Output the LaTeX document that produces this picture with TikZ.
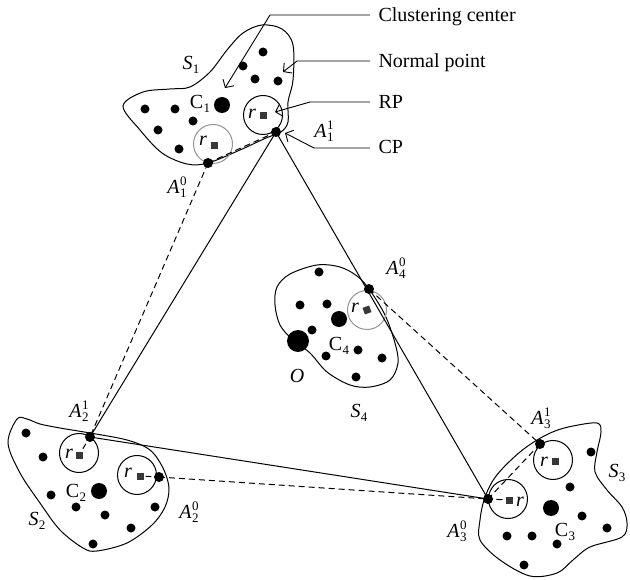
\documentclass[tikz,border=0pt]{standalone}
\usepackage{fontspec}
\setmainfont{Liberation Serif}
\usetikzlibrary{arrows.meta,calc}
\newcommand{\smallfs}{\fontsize{13}{13}\selectfont}
\newcommand{\lA}[2]{\textit{A}\kern0.5pt\rlap{\raisebox{-4pt}{\smallfs #1}}\raisebox{8pt}{\smallfs #2}}
\newcommand{\lS}[1]{\textit{S}\kern0.3pt\raisebox{-4pt}{\smallfs #1}}
\newcommand{\lC}[1]{C\kern0.3pt\raisebox{-4pt}{\smallfs #1}}
\begin{document}
\begin{tikzpicture}[x=1pt,y=-1pt,line width=1pt,
  dotn/.style={circle,fill=black,inner sep=0pt,minimum size=9pt},
  ptn/.style={circle,fill=black,inner sep=0pt,minimum size=10pt},
  bign/.style={circle,fill=black,inner sep=0pt,minimum size=16pt},
  sqr/.style={rectangle,fill=black!78,inner sep=0pt,minimum size=7pt},
  lbl/.style={inner sep=0pt,font=\fontsize{20}{24}\selectfont},
  ring/.style={circle,draw=black,line width=1pt,inner sep=0pt,minimum size=39pt},
  grayring/.style={ring,draw=black!42},
  blobline/.style={line width=1pt},
  dsh/.style={line width=1pt,dash pattern=on 6pt off 4pt},
  lead/.style={line width=0.9pt},
  arr/.style={lead,-{Straight Barb[length=6pt,width=13pt]}},
  rad/.style={line width=1pt}
]
\useasboundingbox (0,0) rectangle (630,580);

% key points
\coordinate (A11) at (276,132);
\coordinate (A10) at (208,163);
\coordinate (A21) at (90,437);
\coordinate (A20) at (159,477);
\coordinate (A30) at (488,499);
\coordinate (A31) at (540,444);
\coordinate (A40) at (369,289);

% blobs
\draw[blobline] plot[smooth cycle,tension=0.55] coordinates {
 (123,106) (143,92) (170,89) (190,87) (210,72) (227,50) (243,33) (262,25)
 (282,29) (293,45) (293,80) (288,102) (288,122) (281,132) (266,138) (240,150)
 (208,163) (187,164) (162,153) (140,130)};
\draw[blobline] plot[smooth cycle,tension=0.55] coordinates {
 (317,265) (340,267) (357,276) (369,289) (385,315) (395,343) (398,363)
 (390,380) (370,387) (350,385) (327,372) (310,353) (292,339) (280,325)
 (275,305) (277,287) (290,274)};
\draw[blobline] plot[smooth cycle,tension=0.55] coordinates {
 (17,419) (27,419) (40,424) (60,428) (90,433) (127,440) (150,450) (163,468)
 (169,488) (165,507) (152,525) (127,543) (97,551) (83,548) (60,530) (40,503)
 (20,473) (8,443)};
\draw[blobline] plot[smooth cycle,tension=0.55] coordinates {
 (480,540) (480,520) (484,500) (492,482) (503,468) (520,452) (537,440)
 (555,431) (573,426) (597,423) (601,432) (597,452) (595,472) (607,490)
 (622,507) (627,523) (622,537) (590,547) (573,560) (557,573) (530,576) (500,560)};

% rings
\node[ring] (R1) at (263,115) {};
\node[grayring] (G1) at (213,144) {};
\node[grayring] (G4) at (367,310) {};
\node[ring] (R21) at (79,453) {};
\node[ring] (R20) at (137,475) {};
\node[ring] (R31) at (553,460) {};
\node[ring] (R30) at (508,499) {};

% connectors
\draw (A11) -- (A21);
\draw (A11) -- (A30);
\draw (A21) -- (A30);
\draw[dsh] (A10) -- (A11);
\draw[dsh] (A10) -- (A21);
\draw[dsh] (A20) -- (A30);
\draw[dsh] (A40) -- (A31);
\draw[dsh] (A31) -- (A30);

% squares (RP)
\node[sqr] (q1) at (263,116) {};
\node[sqr] (qg1) at (214,146) {};
\node[sqr,rotate=20] (qg4) at (367,310) {};
\node[sqr] (q21) at (79,455) {};
\node[sqr] (q20) at (140,476) {};
\node[sqr] (q31) at (555,461) {};
\node[sqr] (q30) at (509,500) {};

% radius ticks
\draw[rad] ($(q21)!0.35!(A21)$) -- ($(q21)!0.62!(A21)$);
\draw[rad] ($(q20)!0.3!(A20)$) -- ($(q20)!0.6!(A20)$);
\draw[rad] ($(q30)!0.3!(A30)$) -- ($(q30)!0.6!(A30)$);

% r labels
\node[lbl] (r1) at (252,114) {\textit{r}};
\node[lbl] (rg1) at (203,141) {\textit{r}};
\node[lbl] (rg4) at (355,308) {\textit{r}};
\node[lbl] (r21) at (69,454) {\textit{r}};
\node[lbl] (r20) at (128,473) {\textit{r}};
\node[lbl] (r31) at (544,462) {\textit{r}};
\node[lbl] (r30) at (520,502) {\textit{r}};

% A points
\foreach \p in {A11,A10,A21,A20,A30,A31,A40} \node[ptn] (\p d) at (\p) {};

% normal points
\foreach \x/\y [count=\i] in {263/52,243/66,255/79,278/81,145/109,175/109,193/121,158/130,179/149,
  319/272,300/305,327/304,312/330,326/356,358/350,382/358,356/377,
  26/433,43/457,51/495,76/507,105/515,155/507,131/528,93/544,
  591/452,570/487,582/516,607/528,507/536,532/536,557/544,524/565}
  \node[dotn] (n\i) at (\x,\y) {};

% cluster centres
\node[bign] (C1) at (222,105) {};
\node[bign] (C4) at (339,319) {};
\node[bign] (C2) at (99,491) {};
\node[bign] (C3) at (551,508) {};
\node[circle,fill=black,inner sep=0pt,minimum size=22pt] (O) at (298,341) {};

% labels
\node[lbl] (lS1) at (191,65) {\lS{1}};
\node[lbl] (lC1) at (200,104) {\lC{1}};
\node[lbl] (lA10) at (177,187) {\lA{1}{0}};
\node[lbl] (lA11) at (324,131) {\lA{1}{1}};
\node[lbl] (lA40) at (396,268) {\lA{4}{0}};
\node[lbl] (lC4) at (339,346) {\lC{4}};
\node[lbl] (lO) at (297,376) {\textit{O}};
\node[lbl] (lS4) at (359,413) {\lS{4}};
\node[lbl] (lA21) at (79,411) {\lA{2}{1}};
\node[lbl] (lC2) at (76,493) {\lC{2}};
\node[lbl] (lS2) at (37,521) {\lS{2}};
\node[lbl] (lA20) at (189,512) {\lA{2}{0}};
\node[lbl] (lA31) at (541,418) {\lA{3}{1}};
\node[lbl] (lS3) at (617,473) {\lS{3}};
\node[lbl] (lA30) at (457,531) {\lA{3}{0}};
\node[lbl] (lC3) at (565,532) {\lC{3}};

% legend
\node[lbl,anchor=base west] (tCC) at (378,22) {Clustering center};
\node[lbl,anchor=base west] (tNP) at (378,68) {Normal point};
\node[lbl,anchor=base west] (tRP) at (378,109) {RP};
\node[lbl,anchor=base west] (tCP) at (378,154) {CP};

\coordinate (kCC) at (270,15);
\coordinate (eCC) at (370,15);
\coordinate (hCC) at (225,88);
\coordinate (kNP) at (297,61);
\coordinate (eNP) at (370,61);
\coordinate (hNP) at (283,72);
\coordinate (kRP) at (310,102);
\coordinate (eRP) at (370,102);
\coordinate (hRP) at (275,112);
\coordinate (kCP) at (314,148);
\coordinate (eCP) at (370,148);
\coordinate (hCP) at (285,133);
\draw[arr] (eCC) -- (kCC) -- (hCC);
\draw[arr] (eNP) -- (kNP) -- (hNP);
\draw[arr] (eRP) -- (kRP) -- (hRP);
\draw[arr] (eCP) -- (kCP) -- (hCP);
\end{tikzpicture}
\end{document}
